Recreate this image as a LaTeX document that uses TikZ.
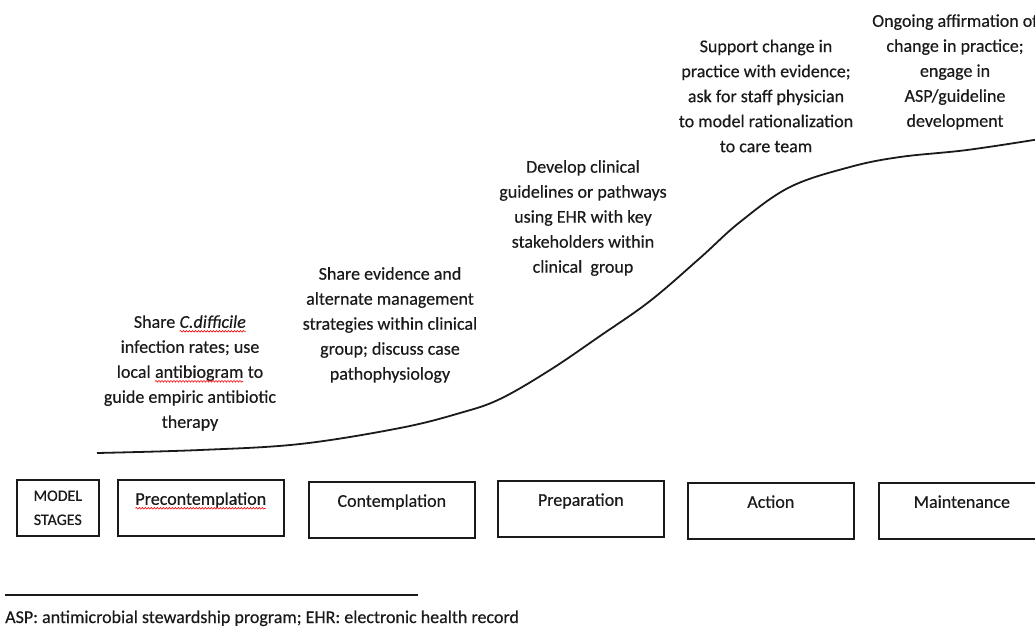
\documentclass[tikz,border=0pt]{standalone}
\usepackage{fontspec}
\setmainfont{Carlito}[FakeBold=0.4]
\usetikzlibrary{decorations.pathmorphing}
\definecolor{ink}{HTML}{1A1A1A}
% word with a red wavy spell-check underline
\newcommand\redwave[1]{\tikz[baseline=(w.base)]{%
  \node[inner sep=0pt, outer sep=0pt, draw=none, anchor=base, minimum width=0pt,
    minimum height=0pt, text height=, text depth=] (w) {#1};
  \draw[red, line width=0.6pt, decorate,
    decoration={snake, amplitude=0.8pt, segment length=3pt}]
    ([yshift=-3.5pt]w.base west) -- ([yshift=-3.5pt]w.base east);}}
\tikzset{
  note/.style={align=center, font=\fontsize{18}{25}\selectfont, text=ink, inner sep=0pt},
  stagebox/.style={draw=ink, line width=1.6pt, minimum width=166pt, inner xsep=0pt,
    inner ysep=0pt, text height=25pt, text depth=31pt, font=\fontsize{18}{22}\selectfont,
    text=ink, anchor=north west},
  curveline/.style={line width=1.8pt, draw=ink},
}
\begin{document}
\begin{tikzpicture}[x=1pt, y=-1pt]
\useasboundingbox (0,0) rectangle (1035,627);
\clip (0,0) rectangle (1035,627);

% stage-of-change curve
\draw[curveline] plot[smooth, tension=0.6] coordinates {
  (97,453) (200,450) (300,444) (400,428) (460,413) (500,399) (550,370)
  (600,336) (650,301) (700,258) (740,222) (790,187) (850,167)
  (900,157) (967,150) (1040,139)};

% notes above the curve
\node[note] (n1) at (190,373) {Share \redwave{\textit{C.difficile}}\\infection rates; use\\local \redwave{antibiogram} to\\guide empiric antibiotic\\therapy};
\node[note] (n2) at (390,325) {Share evidence and\\alternate management\\strategies within clinical\\group; discuss case\\pathophysiology};
\node[note] (n3) at (583,218) {Develop clinical\\guidelines or pathways\\using EHR with key\\stakeholders within\\clinical\ \ group};
\node[note] (n4) at (766,96) {Support change in\\practice with evidence;\\ask for staff physician\\to model rationalization\\to care team};
\node[note] (n5) at (955,72) {Ongoing affirmation of\\change in practice;\\engage in\\ASP/guideline\\development};

% model stages
\node[draw=ink, line width=1.6pt, minimum width=82pt, minimum height=56pt, align=center,
  font=\fontsize{16}{24}\selectfont, text=ink, inner sep=0pt, anchor=north west] (ms) at (16,479) {MODEL\\STAGES};
\node[stagebox] (pre) at (117,479) {\redwave{Precontemplation}};
\node[stagebox] (con) at (308,481) {Contemplation};
\node[stagebox] (prep) at (497,480) {Preparation};
\node[stagebox] (act) at (687,482) {Action};
\node[stagebox] (main) at (878,482) {Maintenance};

% footnote
\coordinate (ruleL) at (5,595);
\coordinate (ruleR) at (418,595);
\draw[ink, line width=1.2pt] (ruleL) -- (ruleR);
\node[anchor=base west, font=\fontsize{18}{20}\selectfont, text=ink, inner sep=0pt] (foot) at (5,623)
  {ASP: antimicrobial stewardship program; EHR: electronic health record};
\end{tikzpicture}
\end{document}
